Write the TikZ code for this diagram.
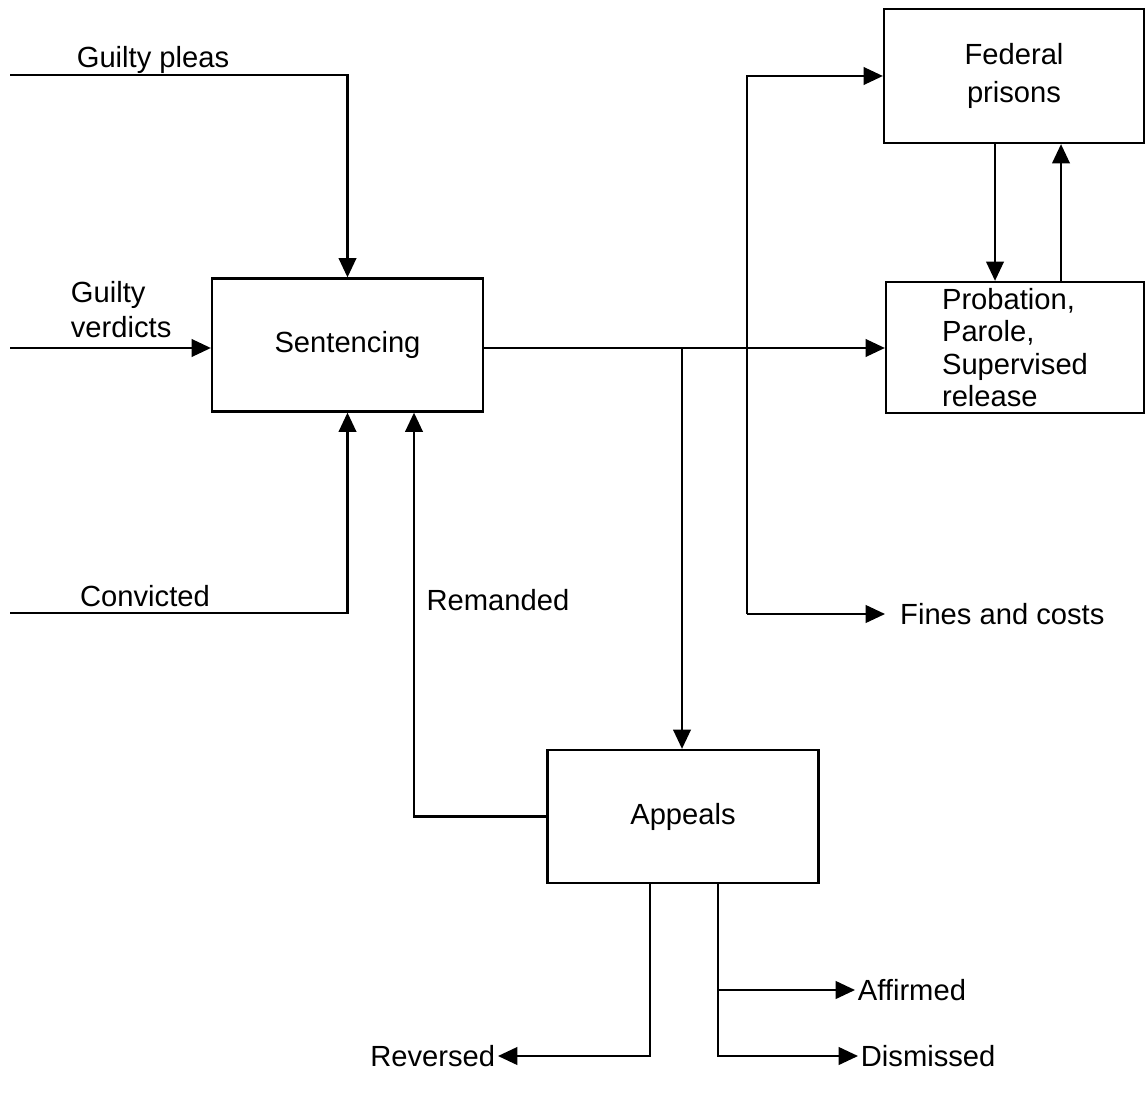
\documentclass[tikz,border=0pt]{standalone}
\usepackage{fontspec}
\setmainfont{Liberation Sans}
\usetikzlibrary{arrows.meta,positioning}

\begin{document}
\begin{tikzpicture} [x=0.02cm,y=-0.02cm,line width=1.3pt,>={Triangle[length=11pt,width=10pt]},
  every node/.style={font=\fontsize{16.6}{21}\selectfont},
  block/.style={draw,line width=1.3pt,minimum width=5.42cm,minimum height=2.66cm,align=center},
  lbl/.style={inner sep=1pt}]
\useasboundingbox (0,0) rectangle (1145,1101);

\node[block] (S) at (347.5,345) {Sentencing};
\node[block,minimum width=5.2cm,minimum height=2.68cm,font=\fontsize{16.6}{22}\selectfont] (F) at (1014,76) {Federal\\prisons};
\node[block,minimum width=5.16cm,minimum height=2.62cm,align=left,font=\fontsize{16.6}{18.5}\selectfont] (P) at (1015,347.5) {Probation,\\Parole,\\Supervised\\release};
\node[block] (A) at (683,816.5) {Appeals};

\node[lbl] (GP) at (153,60) {Guilty pleas};
\node[lbl,anchor=west,align=left,font=\fontsize{16.6}{20}\selectfont] (GV) at (68,310) {Guilty\\verdicts};
\node[lbl] (CV) at (145,596) {Convicted};
\node[lbl] (RM) at (498,600) {Remanded};
\node[lbl,inner xsep=8pt,anchor=west] (FC) at (885,614) {Fines and costs};
\node[lbl,anchor=west] (AF) at (855,990) {Affirmed};
\node[lbl,anchor=west] (DS) at (858,1056) {Dismissed};
\node[lbl,anchor=east] (RV) at (498,1056) {Reversed};

\coordinate (gp) at (10,75);
\coordinate (gv) at (10,348);
\coordinate (cv) at (10,613);
\coordinate (br) at (682,348);
\coordinate (vb) at (747,614);
\coordinate (rm) at (414,0);
\coordinate (rv) at (650,1056);
\coordinate (ds) at (718,1056);
\coordinate (af) at (718,990);

\draw [->] (gp) -| (S.north);
\draw [->] (cv) -| (S.south);
\draw [->] (gv) -- (gv -| S.west);
\draw [->] (S.east |- br) -- (br -| P.west);
\draw [->] (br) -- (br |- A.north);
\draw [->] (vb) |- (F.west);
\draw [->] (vb) -- (FC.west);
\draw [->] (F.south -| 995,0) -- (P.north -| 995,0);
\draw [->] (P.north -| 1061,0) -- (F.south -| 1061,0);
\draw [->] (A.west) -| (S.south -| rm);
\draw [->] (A.south -| rv) |- (RV.east);
\draw [->] (A.south -| ds) |- (DS.west);
\draw [->] (af) -- (AF.west);
\end{tikzpicture}
\end{document}
